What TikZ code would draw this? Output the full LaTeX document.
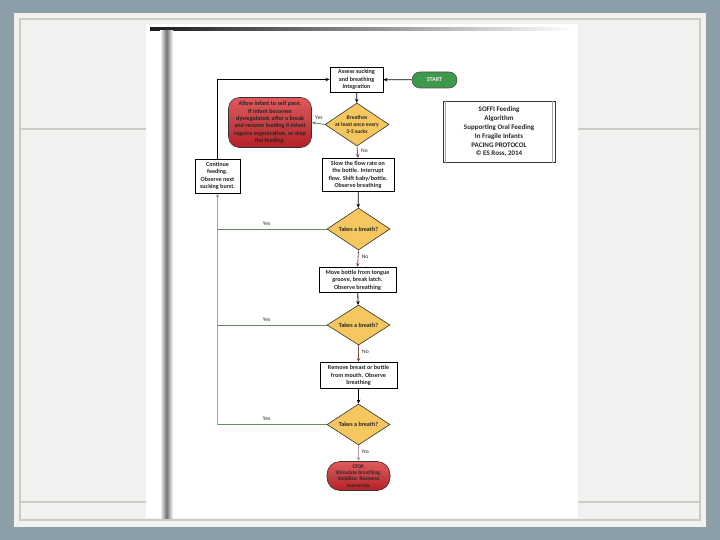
\documentclass[tikz,border=0pt]{standalone}
\usepackage{fontspec}
\setmainfont{Carlito}
\usetikzlibrary{shapes.geometric,arrows.meta,shadings}
\hyphenpenalty=10000
\exhyphenpenalty=10000
\definecolor{slidebg}{HTML}{8C9FA8}
\definecolor{panel}{HTML}{F1F1EF}
\definecolor{panelline}{HTML}{C9CBC7}
\definecolor{diafill}{HTML}{F6C75E}
\definecolor{redA}{HTML}{B81F24}
\definecolor{redB}{HTML}{E4585A}
\definecolor{startgreen}{HTML}{3D9A4C}
\definecolor{yesgreen}{HTML}{5E8F55}
\definecolor{nobrown}{HTML}{8E4B4B}
\tikzset{
  txt/.style={font=\fontsize{6.1}{7.4}\selectfont\bfseries, align=center, text=black!85},
  boxnode/.style={txt, draw=black, line width=0.9pt, fill=white, inner sep=1.5pt},
  dia/.style={txt, diamond, aspect=1.55, draw=black!80, line width=0.6pt, fill=diafill, inner sep=-3pt},
  rednode/.style={txt, rounded corners=11pt, draw=black!80, line width=0.6pt, top color=redB, bottom color=redA, middle color=redA!85!white, inner sep=1pt},
  link/.style={-{Stealth[length=4pt,width=3.5pt]}, line width=0.8pt},
  lbl/.style={font=\fontsize{5.6}{6.6}\selectfont, text=black!85}
}
\begin{document}
\begin{tikzpicture}[x=1pt,y=-1pt]
\useasboundingbox (0,0) rectangle (720,540);
% slide background
\fill[slidebg] (0,0) rectangle (720,540);
\fill[panel] (14,13) rectangle (706,527);
\draw[panelline, line width=1.5pt] (20,19) rectangle (700,520);
\draw[panelline, line width=2pt] (20,129) -- (700,129);
\draw[panelline, line width=2pt] (20,502) -- (700,502);
% page
\fill[white] (146,24) rectangle (578,518);
\shade[left color=black!90, right color=white] (150,28) rectangle (575,31);
\shade[left color=white, right color=white, middle color=black!55] (160,31) rectangle (173,518);
% nodes
\node[boxnode, minimum width=53pt, minimum height=25pt] (assess) at (356.5,79.5) {Assess sucking\\and breathing\\Integration};
\node[txt, rounded corners=8pt, fill=startgreen, draw=black!70, line width=0.6pt, minimum width=45pt, minimum height=16pt, text=white!92!black] (start) at (434.5,80) {START};
\node[dia, minimum width=64pt, minimum height=43pt, font=\fontsize{5.6}{6.8}\selectfont\bfseries] (d1) at (357,124.5) {Breathes\\at least once every\\3-5 sucks};
\node[rednode, minimum width=83pt, minimum height=50pt] (self) at (270,122.5) {Allow infant to self pace.\\If infant becomes\\dysregulated, offer a break\\and resume feeding if infant\\regains organization, or stop\\the feeding.};
\node[boxnode, minimum width=72pt, minimum height=33pt] (slow) at (358,175) {Slow the flow rate on\\the bottle. Interrupt\\flow. Shift baby/bottle.\\Observe breathing};
\node[boxnode, minimum width=45pt, minimum height=34pt] (cont) at (217.5,176) {Continue\\feeding.\\Observe next\\sucking burst.};
\node[dia, minimum width=63pt, minimum height=42pt] (d2) at (358.5,229) {Takes a breath?};
\node[boxnode, minimum width=77pt, minimum height=25pt] (move) at (357.5,280) {Move bottle from tongue\\groove, break latch.\\Observe breathing};
\node[dia, minimum width=63pt, minimum height=40pt] (d3) at (358.5,325) {Takes a breath?};
\node[boxnode, minimum width=77pt, minimum height=26pt] (remove) at (358.5,375.5) {Remove breast or bottle\\from mouth. Observe\\breathing};
\node[dia, minimum width=63pt, minimum height=41pt] (d4) at (358.5,424.5) {Takes a breath?};
\node[rednode, rounded corners=13pt, minimum width=63pt, minimum height=29pt, inner sep=0.5pt, font=\fontsize{5.4}{6.3}\selectfont\bfseries] (stop) at (358.5,476) {STOP.\\Stimulate breathing.\\Stabilize. Reassess\\tomorrow};
% title box
\node[txt, draw=black!80, line width=0.6pt, fill=white, minimum width=112pt, minimum height=61pt, font=\fontsize{7}{8.8}\selectfont\bfseries] (title) at (499,132) {SOFFI Feeding\\Algorithm\\Supporting Oral Feeding\\In Fragile Infants\\PACING PROTOCOL\\© ES Ross, 2014};
\draw[black!35, line width=1pt] ([xshift=2.5pt]title.north west) -- ([xshift=2.5pt]title.south west);
\draw[black!35, line width=1pt] ([xshift=-2.5pt]title.north east) -- ([xshift=-2.5pt]title.south east);
% connectors
\coordinate (ctop) at (217.5,79.5);
\coordinate (g2) at (217.5,229);
\coordinate (g3) at (217.5,325);
\coordinate (g4) at (217.5,424.5);
\draw[link] (start) -- (assess);
\draw[link] (cont.north) -- (ctop) -- (assess.west);
\draw[link] (assess) -- (d1);
\draw[link, yesgreen!70!gray] (d1.west) -- node[lbl, above, pos=0.45] {Yes} (self.east);
\draw[link, nobrown] (d1.south) -- node[lbl, right, pos=0.4] {No} (slow.north);
\draw[link] (slow) -- (d2);
\draw[link, nobrown] (d2.south) -- node[lbl, right, pos=0.4] {No} (move.north);
\draw[link] (move) -- (d3);
\draw[link, nobrown] (d3.south) -- node[lbl, right, pos=0.4] {No} (remove.north);
\draw[link] (remove) -- (d4);
\draw[link, nobrown!60] (d4.south) -- node[lbl, right, pos=0.4] {No} (stop.north);
\draw[yesgreen, line width=0.8pt] (d2.west) -- node[lbl, above, pos=0.55] {Yes} (g2);
\draw[yesgreen, line width=0.8pt] (d3.west) -- node[lbl, above, pos=0.55] {Yes} (g3);
\draw[yesgreen, line width=0.8pt] (d4.west) -- node[lbl, above, pos=0.55] {Yes} (g4);
\draw[link, yesgreen!70!white] (g4) -- (cont.south);
\end{tikzpicture}
\end{document}
